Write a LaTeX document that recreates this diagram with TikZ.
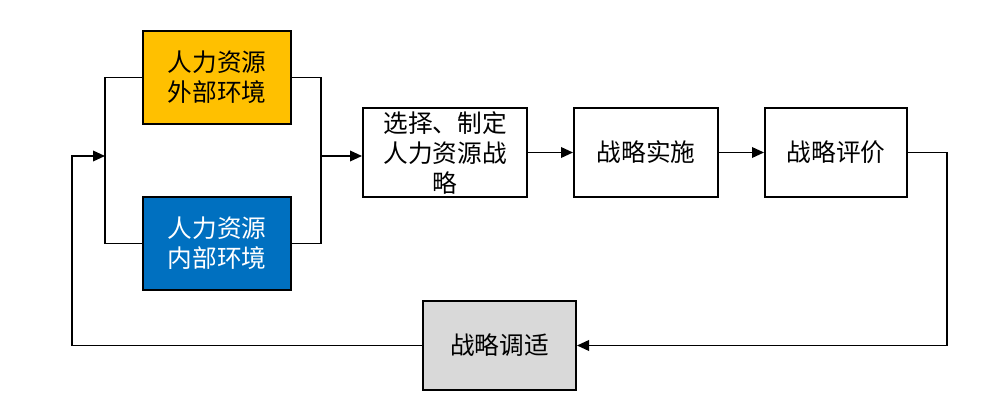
\documentclass[tikz,border=0pt]{standalone}
\usepackage{fontspec}
\setmainfont{Noto Sans CJK SC}
\usetikzlibrary{positioning,arrows.meta}

\definecolor{outerenv}{HTML}{FFC000}
\definecolor{innerenv}{HTML}{0070C0}
\definecolor{adjgray}{HTML}{D9D9D9}

\tikzset{
	box/.style={draw, line width=1.5pt, minimum width=108pt, minimum height=66.75pt,
		inner sep=0pt, align=center, font=\fontsize{18.5}{22.5}\selectfont},
	link/.style={line width=1.1pt},
	flow/.style={link, -{Triangle[length=9pt,width=8pt]}},
}

\begin{document}
\begin{tikzpicture}[x=0.75pt, y=-0.75pt, node distance=33.75pt]
		\useasboundingbox (0,0) rectangle (1008,406);
		
		\node [box, minimum width=123pt] (choose) at (445,152.5) {选择、制定\\人力资源战\\略};
		\node [box, right = of choose] (impl) {战略实施};
		\node [box, minimum width=106.5pt, right = of impl] (eval) {战略评价};
		\node [box, fill=outerenv, minimum width=111pt, minimum height=69.75pt] (ext) at (217,77.5) {人力资源\\外部环境};
		\node [box, fill=innerenv, text=white, minimum width=111pt, minimum height=69.75pt] (int) at (217,243.5) {人力资源\\内部环境};
		\node [box, fill=adjgray, minimum width=114.75pt] (adj) at (499.5,345.5) {战略调适};
		
		\coordinate (lbar) at (105,156);
		\coordinate (rbar) at (321,156);
		\coordinate (back) at (947,345.5);
		\coordinate (loop) at (72,156);
		
		\draw [link] (ext.west) -| (lbar) |- (int.west);
		\draw [link] (ext.east) -| (rbar) |- (int.east);
		\draw [flow] (rbar) -- (rbar -| choose.west);
		\draw [flow] (choose) -- (impl);
		\draw [flow] (impl) -- (eval);
		\draw [flow] (eval.east) -| (back) -- (adj.east);
		\draw [flow] (adj.west) -| (loop) -- (lbar);
		
	\end{tikzpicture}
\end{document}
